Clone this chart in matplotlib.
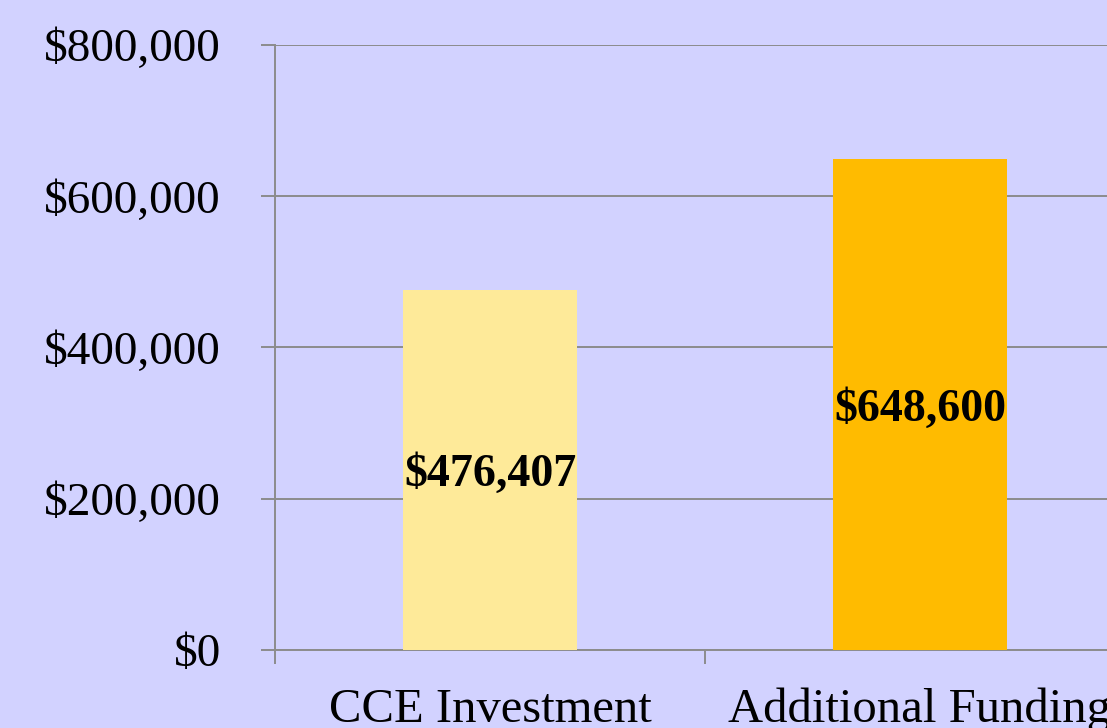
import matplotlib
matplotlib.use("Agg")
import matplotlib.pyplot as plt
from matplotlib.ticker import FuncFormatter

categories = ["CCE Investment", "Additional Funding"]
values = [476407, 648600]
bar_colors = ["#FEEA99", "#FFBB00"]
yticks = [0, 200000, 400000, 600000, 800000]

BG = "#D2D2FF"
GRID = "#8C8C8C"

plt.rcParams["font.family"] = ["Liberation Serif", "DejaVu Serif"]

fig = plt.figure(figsize=(11.07, 7.28), dpi=100, facecolor=BG)
# axes run past the right edge of the figure, as in the original slide crop
ax = fig.add_axes([275 / 1107, 78 / 728, 860 / 1107, 605 / 728], facecolor=BG)

x = list(range(len(categories)))
ax.bar(x, values, width=0.405, color=bar_colors, zorder=3)

for xi, v in zip(x, values):
    ax.text(xi, v / 2, f"${v:,.0f}", ha="center", va="center_baseline",
            fontsize=33, fontweight="bold", zorder=4)

ax.set_xlim(-0.5, 1.5)
ax.set_ylim(0, 800000)
ax.set_yticks(yticks)
ax.yaxis.set_major_formatter(FuncFormatter(lambda v, _: f"${v:,.0f}"))
ax.set_xticks(x)
ax.set_xticklabels(categories)
ax.set_xticks([-0.5, 0.5, 1.5], minor=True)

ax.grid(axis="y", color=GRID, linewidth=1.4, zorder=1)
for s in ("top", "right"):
    ax.spines[s].set_visible(False)
for s in ("left", "bottom"):
    ax.spines[s].set_color(GRID)
    ax.spines[s].set_linewidth(1.4)

ax.tick_params(axis="y", length=10, width=1.4, color=GRID, pad=29, labelsize=34)
ax.tick_params(axis="x", which="major", length=0, pad=27, labelsize=35)
ax.tick_params(axis="x", which="minor", length=10, width=1.4, color=GRID)

fig.savefig("out.png", dpi=100, facecolor=BG)
